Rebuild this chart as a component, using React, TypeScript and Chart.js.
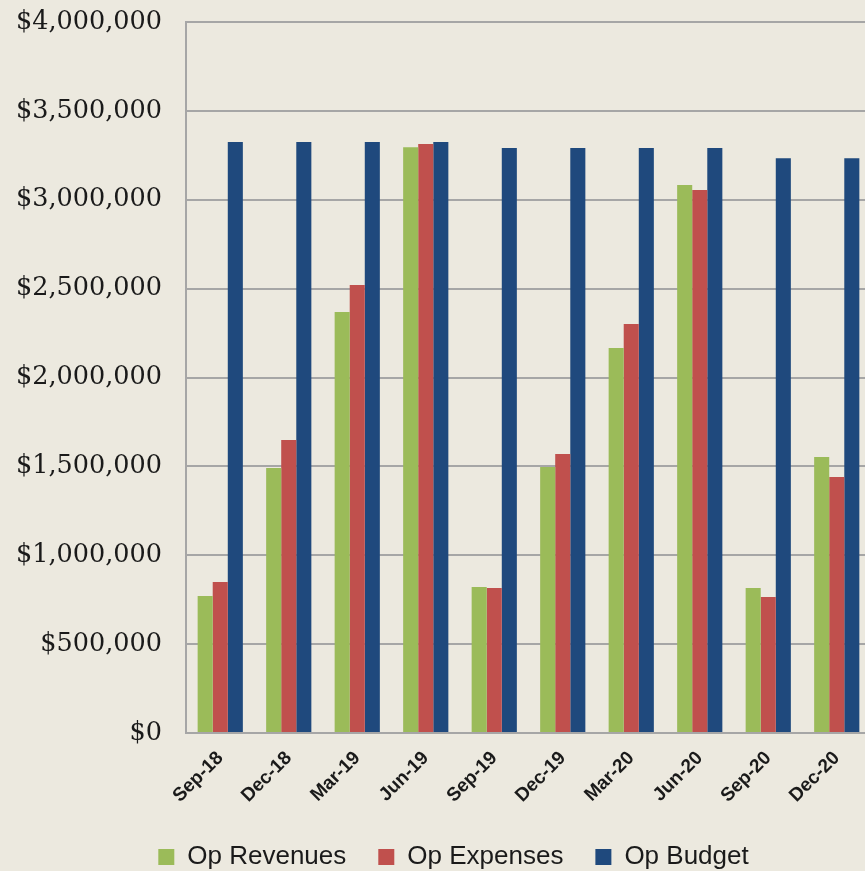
import React, { useEffect, useRef } from "react";
import { Chart, registerables } from "chart.js";

Chart.register(...registerables);

const categories = ["Sep-18", "Dec-18", "Mar-19", "Jun-19", "Sep-19", "Dec-19", "Mar-20", "Jun-20", "Sep-20", "Dec-20"];
const opRevenues = [771000, 1491000, 2368000, 3295000, 821000, 1496000, 2166000, 3083000, 816000, 1553000];
const opExpenses = [850000, 1648000, 2520000, 3314000, 816000, 1570000, 2301000, 3055000, 765000, 1440000];
const opBudget = [3325000, 3325000, 3325000, 3325000, 3291000, 3291000, 3291000, 3291000, 3233000, 3233000];
const yMin = 0;
const yMax = 4000000;
const yStep = 500000;

const BG = "#ECE9DF";
const GRID = "#A6A6A6";

const shiftLegend = {
  id: "shiftLegend",
  afterLayout(chart: any) {
    const lg = chart.legend;
    if (lg) {
      lg.left += 18;
      lg.right += 18;
    }
  },
};

export default function App() {
  const ref = useRef<HTMLCanvasElement>(null);
  useEffect(() => {
    const chart = new Chart(ref.current!, {
      type: "bar",
      data: {
        labels: categories,
        datasets: [
          { label: "Op Revenues", data: opRevenues, backgroundColor: "#9BBB59" },
          { label: "Op Expenses", data: opExpenses, backgroundColor: "#C0504D" },
          { label: "Op Budget", data: opBudget, backgroundColor: "#1F497D" },
        ],
      },
      plugins: [shiftLegend],
      options: {
        animation: false,
        responsive: true,
        maintainAspectRatio: false,
        layout: { padding: { left: 0, right: 0, top: 22, bottom: -9 } },
        datasets: { bar: { categoryPercentage: 0.66, barPercentage: 1.0 } },
        plugins: {
          tooltip: { enabled: false },
          legend: {
            position: "bottom",
            labels: {
              boxWidth: 16,
              boxHeight: 16,
              padding: 32,
              color: "#1a1a1a",
              font: { family: "'Liberation Sans', Arial, sans-serif", size: 26 },
            },
          },
        },
        scales: {
          x: {
            grid: { display: false },
            border: { display: true, color: GRID, width: 2 },
            ticks: {
              minRotation: 45,
              maxRotation: 45,
              padding: 6,
              color: "#1a1a1a",
              font: { family: "'Liberation Sans', Arial, sans-serif", size: 19, weight: "bold" },
            },
            afterFit: (s: any) => {
              s.height = 79;
            },
          },
          y: {
            min: yMin,
            max: yMax,
            grid: { color: GRID, lineWidth: 2, drawTicks: true, tickLength: 24, tickColor: "rgba(0,0,0,0)" },
            border: { display: true, color: GRID, width: 2 },
            ticks: {
              stepSize: yStep,
              padding: 0,
              color: "#1a1a1a",
              font: { family: "'DejaVu Serif', serif", size: 25.5 },
              callback: (v: any) => "$" + Number(v).toLocaleString("en-US"),
            },
            afterFit: (s: any) => {
              s.width = 186;
            },
          },
        },
      },
    });
    return () => chart.destroy();
  }, []);
  return (
    <div style={{ position: "fixed", left: 0, top: 0, width: 865, height: 871, overflow: "hidden", background: BG }}>
      <div style={{ position: "relative", width: 871, height: 871 }}>
        <canvas ref={ref} />
      </div>
    </div>
  );
}
